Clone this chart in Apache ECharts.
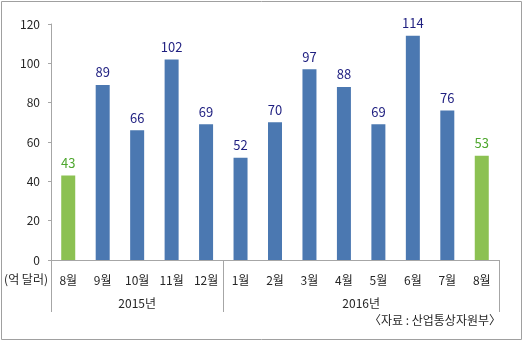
<!DOCTYPE html>
<html><head><meta charset="utf-8">
<script src="https://cdn.jsdelivr.net/npm/echarts@6/dist/echarts.min.js"></script>
<style>html,body{margin:0;padding:0;background:#fff}#c{width:523px;height:341px}</style>
</head><body><div id="c"></div>
<script>
const months = ['8월','9월','10월','11월','12월','1월','2월','3월','4월','5월','6월','7월','8월'];
const values = [43, 89, 66, 102, 69, 52, 70, 97, 88, 69, 114, 76, 53];
const years = ['2015년', '2016년'];
const yearSpans = [5, 8];
const highlighted = [0, 12];
const yTicks = [0, 20, 40, 60, 80, 100, 120];
const unitLabel = '(억 달러)';
const sourceLabel = '〈자료 : 산업통상자원부〉';

// half-slot positions for year group axis
const halfData = [];
const labelAt = {}, tickAt = {0: true};
let pos = 0;
years.forEach((y, i) => {
  labelAt[pos + yearSpans[i]] = y;
  pos += yearSpans[i] * 2;
  tickAt[pos] = true;
});
for (let i = 0; i <= pos; i++) halfData.push(labelAt[i] || '');

const FONT = '"Noto Sans CJK KR", sans-serif';
const BLUE = '#4b78b1', GREEN = '#8cc152', GRAY = '#a6a6a6';

const chart = echarts.init(document.getElementById('c'), null, {renderer: 'canvas'});
chart.setOption({
  animation: false,
  textStyle: {fontFamily: FONT},
  grid: {left: 51, right: 24, top: 24, bottom: 81, containLabel: false},
  xAxis: [{
    type: 'category', data: months, position: 'bottom',
    axisLine: {lineStyle: {color: GRAY}},
    axisTick: {interval: 0, length: 28, lineStyle: {color: GRAY}},
    axisLabel: {interval: 0, margin: 14, fontSize: 12, color: '#262626', fontFamily: FONT}
  }, {
    type: 'category', data: halfData, boundaryGap: false, position: 'bottom',
    axisLine: {show: false},
    axisTick: {show: true, length: 52, interval: (i) => !!tickAt[i], lineStyle: {color: GRAY}},
    axisLabel: {interval: (i, v) => v !== '', margin: 37, fontSize: 12, color: '#262626', fontFamily: FONT}
  }],
  yAxis: {
    type: 'value', min: yTicks[0], max: yTicks[yTicks.length - 1], interval: 20,
    axisLine: {show: true, lineStyle: {color: GRAY}},
    axisTick: {show: true, length: 3, lineStyle: {color: GRAY}},
    splitLine: {show: false},
    axisLabel: {margin: 11, fontSize: 12, color: '#262626', fontFamily: FONT}
  },
  series: [{
    type: 'bar', xAxisIndex: 0, barWidth: 14,
    data: values.map((v, i) => {
      const hi = highlighted.includes(i);
      return {
        value: v,
        itemStyle: {color: hi ? GREEN : BLUE},
        label: {color: hi ? '#4ea72e' : '#1f1f80'}
      };
    }),
    label: {show: true, position: 'top', distance: 6, fontSize: 13, fontFamily: FONT}
  }],
  graphic: [
    {type: 'rect', shape: {x: 1.5, y: 1.5, width: 520, height: 338}, style: {fill: 'none', stroke: '#a0a0a0', lineWidth: 1}, silent: true},
    {type: 'text', right: 475, top: 273, style: {text: unitLabel, fontSize: 12, fill: '#262626', fontFamily: FONT}},
    {type: 'text', right: 22, top: 314, style: {text: sourceLabel, fontSize: 12, fill: '#262626', fontFamily: FONT}}
  ]
});
</script></body></html>
